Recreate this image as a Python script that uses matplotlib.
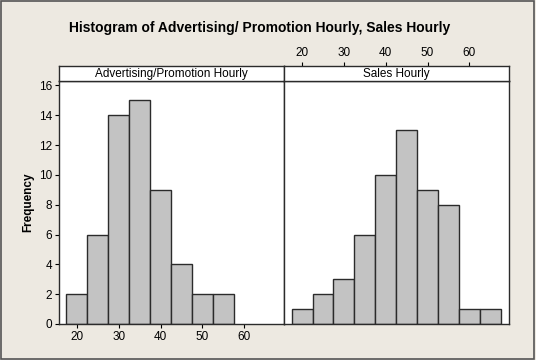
import numpy as np
import matplotlib
matplotlib.use("Agg")
import matplotlib.pyplot as plt

# bin edges shared by both panels (width 5)
edges = [17.5, 22.5, 27.5, 32.5, 37.5, 42.5, 47.5, 52.5, 57.5, 62.5, 67.5]
adv_counts = [2, 6, 14, 15, 9, 4, 2, 2, 0, 0]
sales_counts = [1, 2, 3, 6, 10, 13, 9, 8, 1, 1]
panel_titles = ["Advertising/Promotion Hourly", "Sales Hourly"]
x_ticks = [20, 30, 40, 50, 60]
y_ticks = [0, 2, 4, 6, 8, 10, 12, 14, 16]

bg = "#EDE9E1"
bar_col = "#C3C3C3"
edge_col = "#2B2B2B"

plt.rcParams["font.family"] = ["Liberation Sans", "DejaVu Sans"]
fig = plt.figure(figsize=(5.36, 3.6), dpi=100, facecolor=bg)

# outer border
fig.patches.append(plt.Rectangle((0.002, 0.003), 0.995, 0.994, transform=fig.transFigure,
                                 fill=False, edgecolor="#555555", linewidth=1.2))

left, right = 0.110, 0.950
bottom, top = 0.100, 0.775
strip_h = 0.042
mid = (left + right) / 2
w = mid - left

axes = []
for i, (counts, name) in enumerate(zip([adv_counts, sales_counts], panel_titles)):
    ax = fig.add_axes([left + i * w, bottom, w, top - bottom])
    c = np.array(counts)
    lefts = np.array(edges[:-1])
    widths = np.diff(edges)
    keep = c > 0  # empty bins are not drawn
    ax.bar(lefts[keep], c[keep], width=widths[keep], align="edge", color=bar_col,
           edgecolor=edge_col, linewidth=1.0)
    ax.set_xlim(15.7, 69.5)
    ax.set_ylim(0, 16.3)
    ax.set_xticks(x_ticks)
    ax.set_yticks(y_ticks)
    ax.tick_params(direction="out", length=3, width=0.8, labelsize=8.5, pad=2)
    for s in ax.spines.values():
        s.set_linewidth(1.0)
        s.set_color(edge_col)

    # strip header
    sax = fig.add_axes([left + i * w, top, w, strip_h])
    sax.set_xticks([])
    sax.set_yticks([])
    sax.set_facecolor("white")
    for s in sax.spines.values():
        s.set_linewidth(1.0)
        s.set_color(edge_col)
    sax.text(0.5, 0.45, name, ha="center", va="center", fontsize=8.5,
             transform=sax.transAxes)
    axes.append((ax, sax))

ax0, sax0 = axes[0]
ax1, sax1 = axes[1]
ax0.set_ylabel("Frequency", fontsize=8.5, fontweight="bold", labelpad=3)
ax1.tick_params(axis="y", left=False, labelleft=False)
ax1.tick_params(axis="x", bottom=False, labelbottom=False)
# top ticks for the right panel sit above the strip
sax1.set_xlim(15.7, 69.5)
sax1.set_xticks(x_ticks)
sax1.tick_params(axis="x", top=True, labeltop=True, bottom=False, labelbottom=False,
                 direction="out", length=3, width=0.8, labelsize=8.5, pad=2)

fig.text(0.485, 0.922, "Histogram of Advertising/ Promotion Hourly, Sales Hourly",
         ha="center", va="center", fontsize=10, fontweight="bold")

fig.savefig("out.png", dpi=100, facecolor=bg)
